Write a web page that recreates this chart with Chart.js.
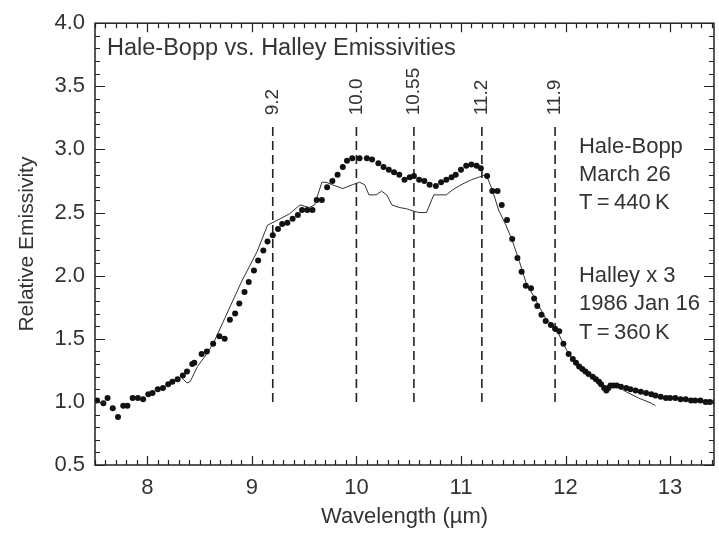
<!DOCTYPE html>
<html>
<head>
<meta charset="utf-8">
<script src="https://cdn.jsdelivr.net/npm/chart.js@4.4.1/dist/chart.umd.min.js"></script>
<style>
  html, body { margin:0; padding:0; background:#fff; }
</style>
</head>
<body>
<canvas id="chart" width="719" height="534"></canvas>
<script>
// Hale-Bopp, March 26 (dots)
const hbWave = [7.52,7.58,7.62,7.67,7.72,7.77,7.81,7.86,7.91,7.96,8.01,8.05,8.10,8.15,8.20,8.24,8.29,8.34,8.38,8.43,8.45,
  8.52,8.57,8.63,8.69,8.74,8.79,8.84,8.88,8.93,8.97,9.02,9.06,9.11,9.15,9.20,9.25,9.29,9.34,9.39,9.44,9.48,9.53,9.58,
  9.62,9.67,9.72,9.77,9.82,9.87,9.91,9.96,10.03,10.10,10.15,10.21,10.26,10.31,10.36,10.41,10.46,10.51,10.55,10.60,
  10.65,10.70,10.76,10.81,10.86,10.91,10.95,11.00,11.05,11.10,11.15,11.19,11.25,11.30,11.35,11.39,11.44,11.49,11.54,
  11.58,11.62,11.67,11.70,11.73,11.77,11.81,11.86,11.90,11.94,11.98,12.03,12.07,12.10,12.13,12.16,12.19,12.22,12.26,
  12.29,12.32,12.34,12.37,12.39,12.41,12.43,12.46,12.49,12.53,12.58,12.62,12.67,12.72,12.77,12.82,12.86,12.91,12.96,
  13.00,13.05,13.10,13.15,13.20,13.24,13.29,13.34,13.38,13.43];
const hbEmis = [1.01,0.99,1.03,0.95,0.88,0.97,0.97,1.03,1.03,1.02,1.06,1.07,1.10,1.11,1.14,1.16,1.18,1.21,1.24,1.30,1.31,
  1.38,1.40,1.46,1.52,1.50,1.65,1.70,1.78,1.87,1.95,2.04,2.12,2.20,2.27,2.32,2.37,2.41,2.42,2.45,2.48,2.52,2.52,2.52,
  2.60,2.60,2.70,2.75,2.80,2.86,2.91,2.93,2.93,2.93,2.92,2.89,2.86,2.84,2.82,2.80,2.76,2.78,2.79,2.76,
  2.75,2.72,2.71,2.74,2.76,2.78,2.80,2.84,2.87,2.88,2.87,2.85,2.79,2.67,2.67,2.56,2.44,2.29,2.14,
  2.03,1.92,1.90,1.82,1.76,1.69,1.64,1.61,1.58,1.56,1.46,1.38,1.34,1.31,1.28,1.26,1.24,1.22,1.20,
  1.18,1.16,1.14,1.11,1.09,1.11,1.13,1.13,1.13,1.12,1.11,1.10,1.09,1.08,1.07,1.06,1.05,1.04,1.03,
  1.03,1.03,1.02,1.02,1.01,1.01,1.01,1.00,1.00,1.00];

// Halley x 3, 1986 Jan 16 (thin line)
const halleyWave = [8.33,8.38,8.41,8.48,8.55,8.63,8.74,8.90,9.05,9.15,9.27,9.36,9.46,9.55,9.60,9.67,9.71,9.77,9.87,9.96,
  10.03,10.08,10.12,10.19,10.24,10.29,10.34,10.41,10.48,10.55,10.60,10.67,10.74,10.79,10.86,10.92,11.00,11.10,11.17,
  11.24,11.30,11.36,11.43,11.49,11.56,11.62,11.72,11.81,11.91,11.98,12.03,12.10,12.16,12.22,12.29,12.34,12.39,12.43,
  12.50,12.58,12.70,12.82,12.86];
const halleyEmis = [1.19,1.15,1.16,1.28,1.36,1.46,1.66,1.95,2.19,2.40,2.45,2.49,2.56,2.54,2.56,2.74,2.74,2.72,2.69,2.72,
  2.74,2.72,2.64,2.64,2.67,2.64,2.56,2.54,2.53,2.51,2.50,2.50,2.64,2.64,2.64,2.68,2.72,2.76,2.78,
  2.80,2.68,2.52,2.40,2.28,2.11,1.95,1.80,1.66,1.58,1.46,1.38,1.31,1.26,1.22,1.18,1.14,1.09,1.13,
  1.12,1.08,1.03,0.99,0.97];

// feature markers (dashed lines)
const featureWave = [9.2, 10.0, 10.55, 11.2, 11.9];
const featureLabels = ["9.2", "10.0", "10.55", "11.2", "11.9"];
const featureRange = [1.0, 3.2];

const xTicks = [8, 9, 10, 11, 12, 13];
const yTicks = [0.5, 1.0, 1.5, 2.0, 2.5, 3.0, 3.5, 4.0];

const titleText = "Hale-Bopp vs. Halley Emissivities";
const hbNote = ["Hale-Bopp", "March 26", "T\u2009=\u2009440\u2009K"];
const halleyNote = ["Halley x 3", "1986 Jan 16", "T\u2009=\u2009360\u2009K"];

const FONT = "'Liberation Sans', Arial, sans-serif";
const INK = "#222";
const TXT = "#333";

function pts(xs, ys){ return xs.map((x,i)=>({x:x, y:ys[i]})); }

/* frame + inward minor/major ticks on all four sides */
const frameTicks = {
  id: "frameTicks",
  afterDraw(chart){
    const ctx = chart.ctx, a = chart.chartArea;
    const xs = chart.scales.x, ys = chart.scales.y;
    ctx.save();
    ctx.strokeStyle = INK;
    ctx.lineWidth = 1.5;
    ctx.strokeRect(a.left, a.top, a.right-a.left, a.bottom-a.top);
    ctx.lineWidth = 1.2;
    ctx.beginPath();
    for(let i=75;i<=134;i++){
      const px = Math.round(xs.getPixelForValue(i/10))+0.5;
      const len = i%10===0 ? 9 : 5;
      ctx.moveTo(px, a.bottom); ctx.lineTo(px, a.bottom-len);
      ctx.moveTo(px, a.top); ctx.lineTo(px, a.top+len);
    }
    for(let i=5;i<=40;i++){
      const py = Math.round(ys.getPixelForValue(i/10))+0.5;
      const len = i%5===0 ? 10 : 5;
      ctx.moveTo(a.left, py); ctx.lineTo(a.left+len, py);
      ctx.moveTo(a.right, py); ctx.lineTo(a.right-len, py);
    }
    ctx.stroke();
    ctx.restore();
  }
};

/* title, notes and feature labels, placed in data units */
const notes = {
  id: "notes",
  afterDraw(chart){
    const ctx = chart.ctx;
    const xs = chart.scales.x, ys = chart.scales.y;
    const X = v => xs.getPixelForValue(v), Y = v => ys.getPixelForValue(v);
    ctx.save();
    ctx.fillStyle = TXT;
    ctx.textBaseline = "middle";
    ctx.textAlign = "left";
    ctx.font = "23.5px " + FONT;
    ctx.fillText(titleText, X(7.615), Y(3.80));

    ctx.font = "22px " + FONT;
    const lineStep = 0.222;
    hbNote.forEach((t,i)=> ctx.fillText(t, X(12.128), Y(3.017 - i*lineStep)));
    halleyNote.forEach((t,i)=> ctx.fillText(t, X(12.128), Y(1.994 - i*lineStep)));

    ctx.font = "19px " + FONT;
    featureWave.forEach((w,i)=>{
      ctx.save();
      ctx.translate(X(w), Y(3.27));
      ctx.rotate(-Math.PI/2);
      ctx.fillText(featureLabels[i], 0, 0);
      ctx.restore();
    });
    ctx.restore();
  }
};

const datasets = [
  {
    label: "Hale-Bopp",
    data: pts(hbWave, hbEmis),
    showLine: false,
    pointRadius: 3,
    pointBackgroundColor: "#111",
    pointBorderWidth: 0
  },
  {
    label: "Halley x 3",
    data: pts(halleyWave, halleyEmis),
    showLine: true,
    borderColor: "#333",
    borderWidth: 1,
    pointRadius: 0
  }
];
featureWave.forEach(w=>{
  datasets.push({
    label: "f" + w,
    data: [{x:w, y:featureRange[0]}, {x:w, y:featureRange[1]}],
    showLine: true,
    borderColor: INK,
    borderWidth: 1.6,
    borderDash: [9, 5],
    pointRadius: 0
  });
});

window.addEventListener("load", () => {
  new Chart(document.getElementById("chart"), {
    type: "scatter",
    data: { datasets: datasets },
    options: {
      responsive: false,
      devicePixelRatio: 1,
      animation: false,
      layout: { padding: { top: 20, right: 5, left: 0, bottom: 0 } },
      plugins: { legend: { display: false }, tooltip: { enabled: false } },
      scales: {
        x: {
          type: "linear",
          min: 7.5, max: 13.42,
          grid: { display: false, drawTicks: false },
          border: { display: false },
          afterBuildTicks: s => { s.ticks = xTicks.map(v=>({value:v})); },
          afterFit: s => { s.height = 69; },
          ticks: { padding: 10, color: TXT, font: { family: FONT, size: 22 }, callback: v => String(v) },
          title: { display: true, text: "Wavelength (\u00b5m)", color: TXT,
                   font: { family: FONT, size: 22 }, padding: { top: 0, bottom: 4 } }
        },
        y: {
          type: "linear",
          min: 0.5, max: 4.0,
          grid: { display: false, drawTicks: false },
          border: { display: false },
          afterBuildTicks: s => { s.ticks = yTicks.map(v=>({value:v})); },
          afterFit: s => { s.width = 95; },
          ticks: { padding: 10, color: TXT, font: { family: FONT, size: 22 }, callback: v => v.toFixed(1) },
          title: { display: true, text: "Relative Emissivity", color: TXT,
                   font: { family: FONT, size: 21 }, padding: { top: 15, bottom: 0 } }
        }
      }
    },
    plugins: [frameTicks, notes]
  });
});
</script>
</body>
</html>
